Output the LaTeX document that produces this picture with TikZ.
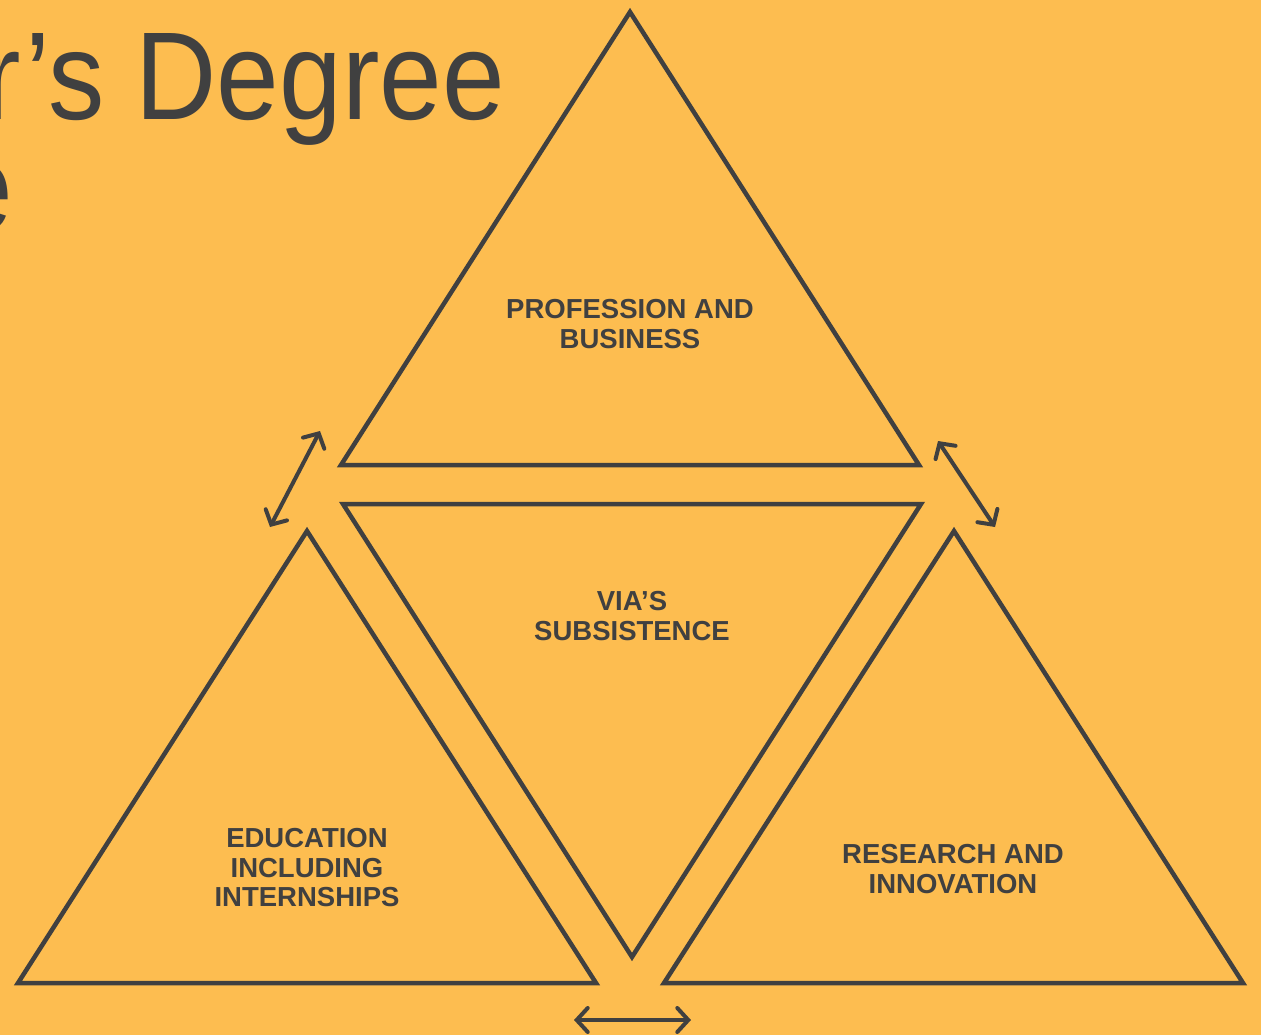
\documentclass[tikz,border=0pt]{standalone}
\usepackage{fontspec}
\setmainfont{Liberation Sans}
\usetikzlibrary{arrows.meta}
\definecolor{bg}{RGB}{253,189,80}
\definecolor{ink}{RGB}{64,64,64}
\tikzset{
  tri/.style={draw=ink,line width=4.5pt,line join=miter},
  lbl/.style={text=ink,align=center,font=\fontsize{27.5}{29.5}\selectfont\bfseries,inner sep=0pt},
  dbl/.style={draw=ink,line width=4pt,line cap=round,{Straight Barb[length=11pt,width=24pt,line cap=round]}-{Straight Barb[length=11pt,width=24pt,line cap=round]}},
  ttl/.style={text=ink,inner sep=0pt,font=\fontsize{125}{125}\selectfont}
}
\begin{document}
\begin{tikzpicture}[x=1pt,y=-1pt]
\useasboundingbox (0,0) rectangle (1261,1035);
\fill[bg] (0,0) rectangle (1261,1035);
\begin{scope}
\clip (0,0) rectangle (1261,1035);
\node[ttl,anchor=base east] (t1) at (505,120) {\scalebox{0.9}[1]{r’s Degree}};
\node[ttl,anchor=base east] (t2) at (13,230) {\scalebox{0.9}[1]{e}};
\end{scope}
% vertices
\coordinate (pa) at (630,12);   \coordinate (pl) at (341,465); \coordinate (pr) at (919,465);
\coordinate (ml) at (343,504);  \coordinate (mr) at (921,504); \coordinate (mb) at (632,957);
\coordinate (la) at (307,531);  \coordinate (ll) at (18,983);  \coordinate (lr) at (596,983);
\coordinate (ra) at (954,531);  \coordinate (rl) at (664,983); \coordinate (rr) at (1243,983);
\draw[tri] (pa) -- (pr) -- (pl) -- cycle;
\draw[tri] (ml) -- (mr) -- (mb) -- cycle;
\draw[tri] (la) -- (lr) -- (ll) -- cycle;
\draw[tri] (ra) -- (rr) -- (rl) -- cycle;
% labels
\node[lbl] (prof) at (630,324) {PROFESSION AND\\BUSINESS};
\node[lbl] (via) at (632,616) {VIA’S\\SUBSISTENCE};
\node[lbl] (edu) at (307,868) {EDUCATION\\INCLUDING\\INTERNSHIPS};
\node[lbl] (res) at (953,869) {RESEARCH AND\\INNOVATION};
% arrows
\coordinate (a1s) at (270,527); \coordinate (a1e) at (320,431);
\coordinate (a2s) at (938,441); \coordinate (a2e) at (995,527);
\coordinate (a3s) at (574,1020); \coordinate (a3e) at (691,1020);
\draw[dbl] (a1s) -- (a1e);
\draw[dbl] (a2s) -- (a2e);
\draw[dbl] (a3s) -- (a3e);
\end{tikzpicture}
\end{document}
